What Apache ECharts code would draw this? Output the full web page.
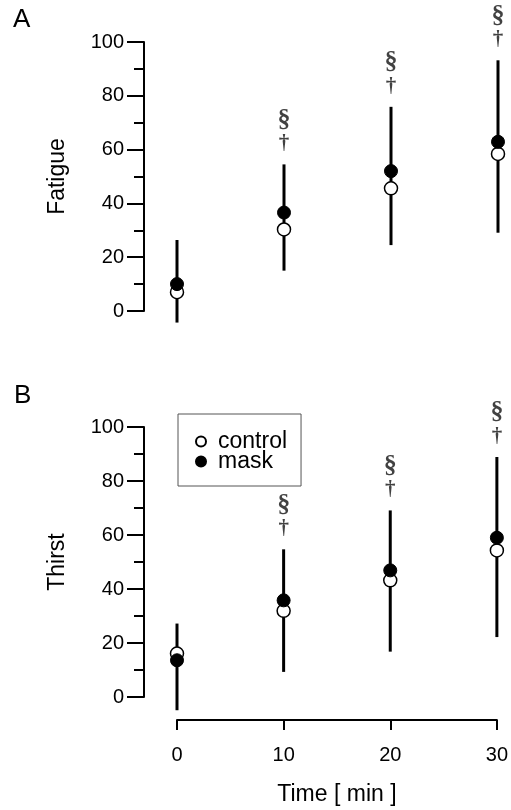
<!DOCTYPE html>
<html>
<head>
<meta charset="utf-8">
<script src="https://cdn.jsdelivr.net/npm/echarts@6.0.0/dist/echarts.min.js"></script>
<style>
  html, body { margin: 0; padding: 0; background: #fff; }
  #main { width: 511px; height: 810px; }
</style>
</head>
<body>
<div id="main"></div>
<script>
// time points (min)
const timePts = [0, 10, 20, 30];
// A: fatigue
const fatigueControl = [7, 30.3, 45.6, 58.4];
const fatigueMask = [10, 36.6, 52, 62.9];
const fatigueLow = [-4.3, 15, 24.5, 29.1];
const fatigueHigh = [26.4, 54.5, 75.9, 93.2];
// B: thirst
const thirstControl = [16.1, 31.9, 43.2, 54.3];
const thirstMask = [13.6, 35.8, 46.9, 59];
const thirstLow = [-4.9, 9.3, 16.8, 22.2];
const thirstHigh = [27.2, 54.7, 69.1, 88.9];
// time points marked with § and †
const sigTimes = [10, 20, 30];
const yTicks = [0, 20, 40, 60, 80, 100];

var myChart = echarts.init(document.getElementById('main'));

function yAx (idx, name) {
  return {
    gridIndex: idx,
    type: 'value',
    min: yTicks[0],
    max: yTicks[yTicks.length - 1],
    interval: 20,
    offset: 33,
    name: name,
    nameLocation: 'middle',
    nameGap: 75,
    nameTextStyle: { fontSize: 23, color: '#000', fontFamily: 'Liberation Sans' },
    axisLine: { show: true, onZero: false, lineStyle: { color: '#000', width: 2 } },
    axisTick: { show: true, length: 17, lineStyle: { color: '#000', width: 2 } },
    minorTick: { show: true, splitNumber: 2, length: 10, lineStyle: { color: '#000', width: 2 } },
    axisLabel: { fontSize: 20, color: '#000', margin: 20, fontFamily: 'Liberation Sans' },
    splitLine: { show: false },
    minorSplitLine: { show: false }
  };
}

function errBars (idx, low, high) {
  return {
    type: 'custom',
    xAxisIndex: idx,
    yAxisIndex: idx,
    clip: false,
    silent: true,
    z: 1,
    data: timePts.map((t, i) => [t, low[i], high[i]]),
    encode: { x: 0, y: [1, 2] },
    renderItem: function (params, api) {
      const a = api.coord([api.value(0), api.value(1)]);
      const b = api.coord([api.value(0), api.value(2)]);
      return {
        type: 'line',
        shape: { x1: a[0], y1: a[1], x2: b[0], y2: b[1] },
        style: { stroke: '#000', lineWidth: 3 }
      };
    }
  };
}

function points (idx, name, vals, filled) {
  return {
    name: name,
    type: 'scatter',
    xAxisIndex: idx,
    yAxisIndex: idx,
    symbol: 'circle',
    symbolSize: 13,
    z: filled ? 4 : 3,
    itemStyle: filled
      ? { color: '#000', borderColor: '#000', borderWidth: 1, opacity: 1 }
      : { color: '#fff', borderColor: '#000', borderWidth: 1.5, opacity: 1 },
    data: timePts.map((t, i) => [t, vals[i]])
  };
}

function sigMarks (idx, high) {
  return {
    type: 'scatter',
    xAxisIndex: idx,
    yAxisIndex: idx,
    symbolSize: 1,
    silent: true,
    itemStyle: { color: 'rgba(0,0,0,0)' },
    label: {
      show: true,
      position: 'top',
      distance: 8,
      formatter: '{s|§}\n{d|†}',
      rich: {
        s: { fontFamily: 'Liberation Serif', fontSize: 26, lineHeight: 24, color: '#111', fontWeight: 'bold' },
        d: { fontFamily: 'Liberation Serif', fontSize: 21, lineHeight: 24, color: '#111', fontWeight: 'bold' }
      }
    },
    data: sigTimes.map(t => [t, high[timePts.indexOf(t)]])
  };
}

var option = {
  animation: false,
  backgroundColor: '#fff',
  textStyle: { fontFamily: 'Liberation Sans' },
  graphic: [
    { type: 'text', left: 13, top: 7, style: { text: 'A', fontSize: 26, fill: '#000', fontFamily: 'Liberation Sans' } },
    { type: 'text', left: 14, top: 383, style: { text: 'B', fontSize: 26, fill: '#000', fontFamily: 'Liberation Sans' } }
  ],
  legend: {
    data: ['control', 'mask'],
    orient: 'vertical',
    left: 178,
    top: 414,
    padding: [16, 14, 13, 17],
    itemGap: -3,
    itemWidth: 10,
    itemHeight: 10,
    icon: 'circle',
    borderColor: '#555',
    borderWidth: 1,
    borderRadius: 0,
    selectedMode: false,
    textStyle: { fontSize: 23, color: '#000', padding: [0, 0, 0, 7], fontFamily: 'Liberation Sans' }
  },
  grid: [
    { left: 177, right: 13, top: 42, height: 269 },
    { left: 177, right: 13, top: 427, height: 270 }
  ],
  xAxis: [
    { gridIndex: 0, type: 'value', min: 0, max: 30, show: false },
    {
      gridIndex: 1,
      type: 'value',
      min: 0,
      max: 30,
      interval: 10,
      offset: 23,
      name: 'Time [ min ]',
      nameLocation: 'middle',
      nameGap: 63,
      nameTextStyle: { fontSize: 23, color: '#000', fontFamily: 'Liberation Sans' },
      axisLine: { show: true, onZero: false, lineStyle: { color: '#000', width: 2 } },
      axisTick: { show: true, length: 10, lineStyle: { color: '#000', width: 2 } },
      axisLabel: { fontSize: 20, color: '#000', margin: 25, fontFamily: 'Liberation Sans' },
      splitLine: { show: false }
    }
  ],
  yAxis: [yAx(0, 'Fatigue'), yAx(1, 'Thirst')],
  series: [
    errBars(0, fatigueLow, fatigueHigh),
    points(0, 'control', fatigueControl, false),
    points(0, 'mask', fatigueMask, true),
    sigMarks(0, fatigueHigh),
    errBars(1, thirstLow, thirstHigh),
    points(1, 'control', thirstControl, false),
    points(1, 'mask', thirstMask, true),
    sigMarks(1, thirstHigh)
  ]
};

myChart.setOption(option);
</script>
</body>
</html>
